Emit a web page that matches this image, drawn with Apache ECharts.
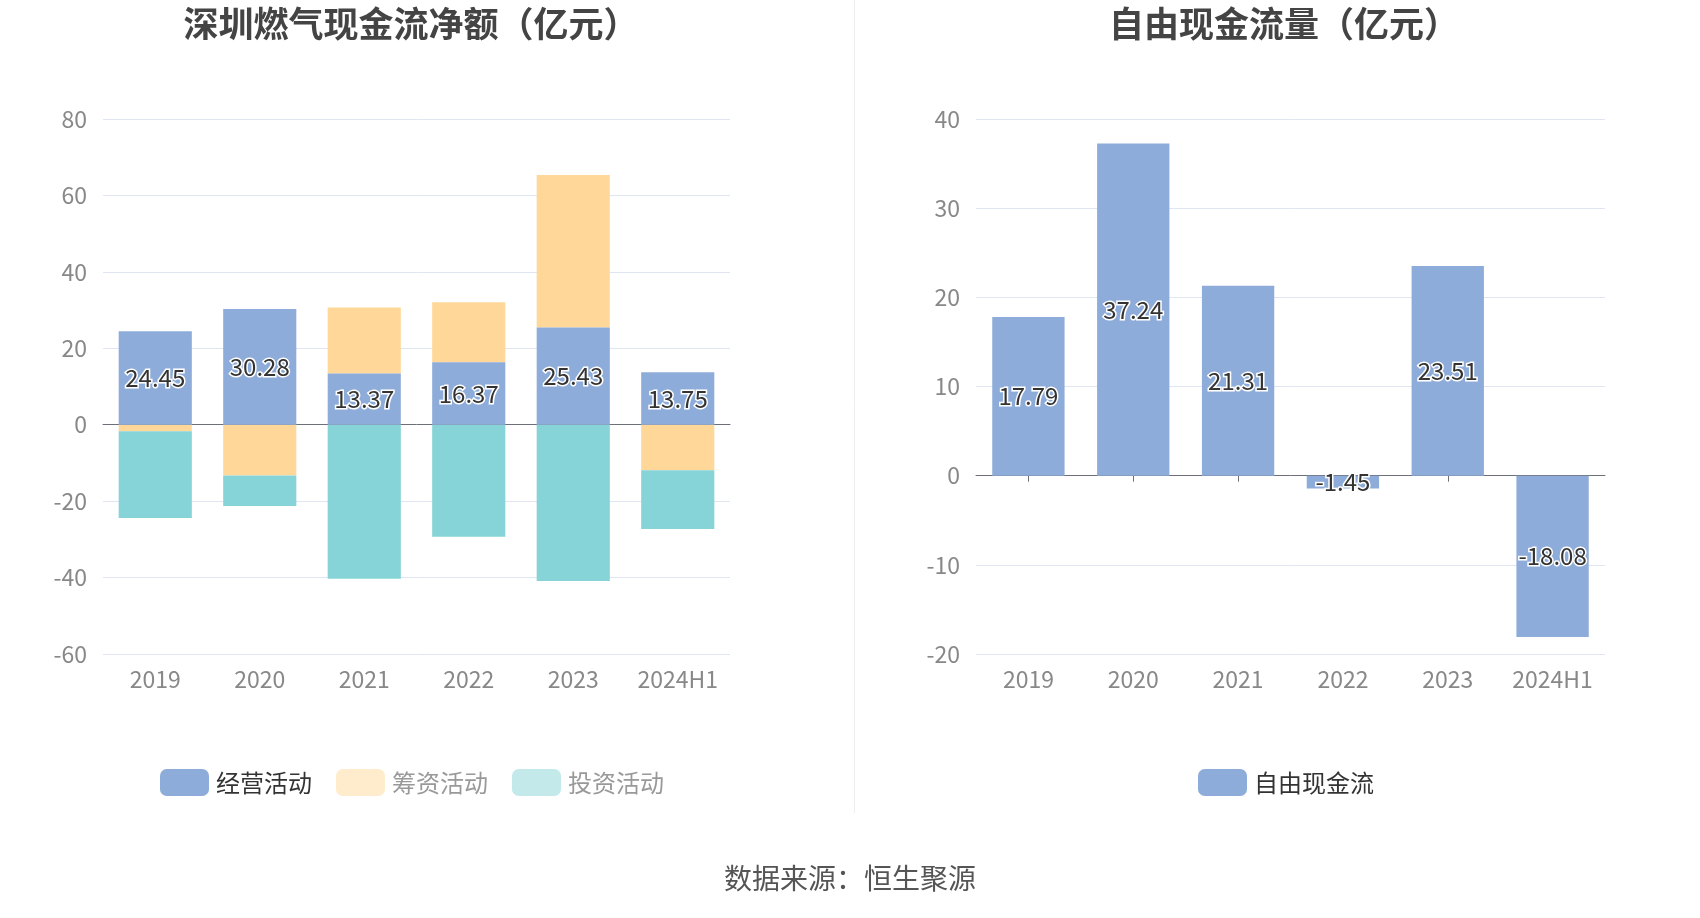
<!DOCTYPE html>
<html><head><meta charset="utf-8">
<script src="https://cdn.jsdelivr.net/npm/echarts@6/dist/echarts.min.js"></script>
<style>html,body{margin:0;padding:0;background:#fff}#c{width:1700px;height:918px}</style>
</head><body><div id="c"></div>
<script>
const categories = ['2019','2020','2021','2022','2023','2024H1'];
const operating = [24.45, 30.28, 13.37, 16.37, 25.43, 13.75];
const financing = [-1.7, -13.3, 17.3, 15.7, 39.9, -11.9];
const investing = [-22.7, -8.0, -40.3, -29.3, -40.9, -15.4];
const freeCashFlow = [17.79, 37.24, 21.31, -1.45, 23.51, -18.08];
const leftTicks = {min: -60, max: 80, interval: 20};
const rightTicks = {min: -20, max: 40, interval: 10};

const FONT = '"Noto Sans CJK SC", "Noto Sans", sans-serif';
const C_BLUE = '#8eacd9', C_ORANGE = '#ffd899', C_TEAL = '#86d4d8';
const labelStyle = {
  show: true, position: 'inside', color: '#333', fontSize: 24, fontFamily: FONT,
  textBorderColor: '#fff', textBorderWidth: 3,
  formatter: p => p.value.toFixed(2)
};
const chart = echarts.init(document.getElementById('c'));
const axisLabel = {color: '#888', fontSize: 23, fontFamily: FONT};
chart.setOption({
  animation: false,
  graphic: [
    {type: 'text', x: 411, y: 24, style: {text: '深圳燃气现金流净额（亿元）', font: 'bold 35px ' + FONT, fill: '#444', textAlign: 'center', textVerticalAlign: 'middle'}},
    {type: 'text', x: 1284, y: 24, style: {text: '自由现金流量（亿元）', font: 'bold 35px ' + FONT, fill: '#444', textAlign: 'center', textVerticalAlign: 'middle'}},
    {type: 'line', shape: {x1: 854.5, y1: 0, x2: 854.5, y2: 813}, style: {stroke: '#eeeeee', lineWidth: 1}},
    {type: 'text', x: 850, y: 878, style: {text: '数据来源：恒生聚源', font: '28px ' + FONT, fill: '#555', textAlign: 'center', textVerticalAlign: 'middle'}}
  ],
  legend: [
    {left: 155, top: 764, itemWidth: 49, itemHeight: 27, itemGap: 24, icon: 'roundRect',
     textStyle: {fontSize: 24, fontFamily: FONT, padding: [0,0,0,2]},
     data: [
       {name: '经营活动', itemStyle: {color: C_BLUE}, textStyle: {color: '#333'}},
       {name: '筹资活动', itemStyle: {color: '#ffeccc'}, textStyle: {color: '#999'}},
       {name: '投资活动', itemStyle: {color: '#c3e9eb'}, textStyle: {color: '#999'}}
     ]},
    {left: 1193, top: 764, itemWidth: 49, itemHeight: 27, icon: 'roundRect',
     textStyle: {fontSize: 24, fontFamily: FONT, color: '#333', padding: [0,0,0,2]},
     data: [{name: '自由现金流', itemStyle: {color: C_BLUE}}]}
  ],
  grid: [
    {left: 103, top: 119, width: 627, height: 535},
    {left: 976, top: 119, width: 629, height: 535}
  ],
  xAxis: [
    {type: 'category', gridIndex: 0, data: categories,
     axisLine: {onZero: true, lineStyle: {color: '#6e7079'}}, axisTick: {show: false},
     axisLabel: Object.assign({margin: 14, interval: 0}, axisLabel)},
    {type: 'category', gridIndex: 1, data: categories,
     axisLine: {onZero: true, lineStyle: {color: '#6e7079'}}, axisTick: {show: true, alignWithLabel: true, length: 6, lineStyle: {color: '#6e7079'}},
     axisLabel: Object.assign({margin: 14, interval: 0}, axisLabel)}
  ],
  yAxis: [
    Object.assign({type: 'value', gridIndex: 0, axisLabel: Object.assign({margin: 16}, axisLabel),
      splitLine: {lineStyle: {color: '#e0e6f1'}}, axisLine: {show: false}}, leftTicks),
    Object.assign({type: 'value', gridIndex: 1, axisLabel: Object.assign({margin: 16}, axisLabel),
      splitLine: {lineStyle: {color: '#e0e6f1'}}, axisLine: {show: false}}, rightTicks)
  ],
  series: [
    {name: '经营活动', type: 'bar', stack: 'a', xAxisIndex: 0, yAxisIndex: 0, barWidth: '70%', data: operating,
     itemStyle: {color: C_BLUE}, label: labelStyle, z: 3},
    {name: '筹资活动', type: 'bar', stack: 'a', xAxisIndex: 0, yAxisIndex: 0, barWidth: '70%', data: financing,
     itemStyle: {color: C_ORANGE}},
    {name: '投资活动', type: 'bar', stack: 'a', xAxisIndex: 0, yAxisIndex: 0, barWidth: '70%', data: investing,
     itemStyle: {color: C_TEAL}},
    {name: '自由现金流', type: 'bar', xAxisIndex: 1, yAxisIndex: 1, barWidth: '69%', data: freeCashFlow,
     itemStyle: {color: C_BLUE}, label: labelStyle}
  ]
});
</script></body></html>
